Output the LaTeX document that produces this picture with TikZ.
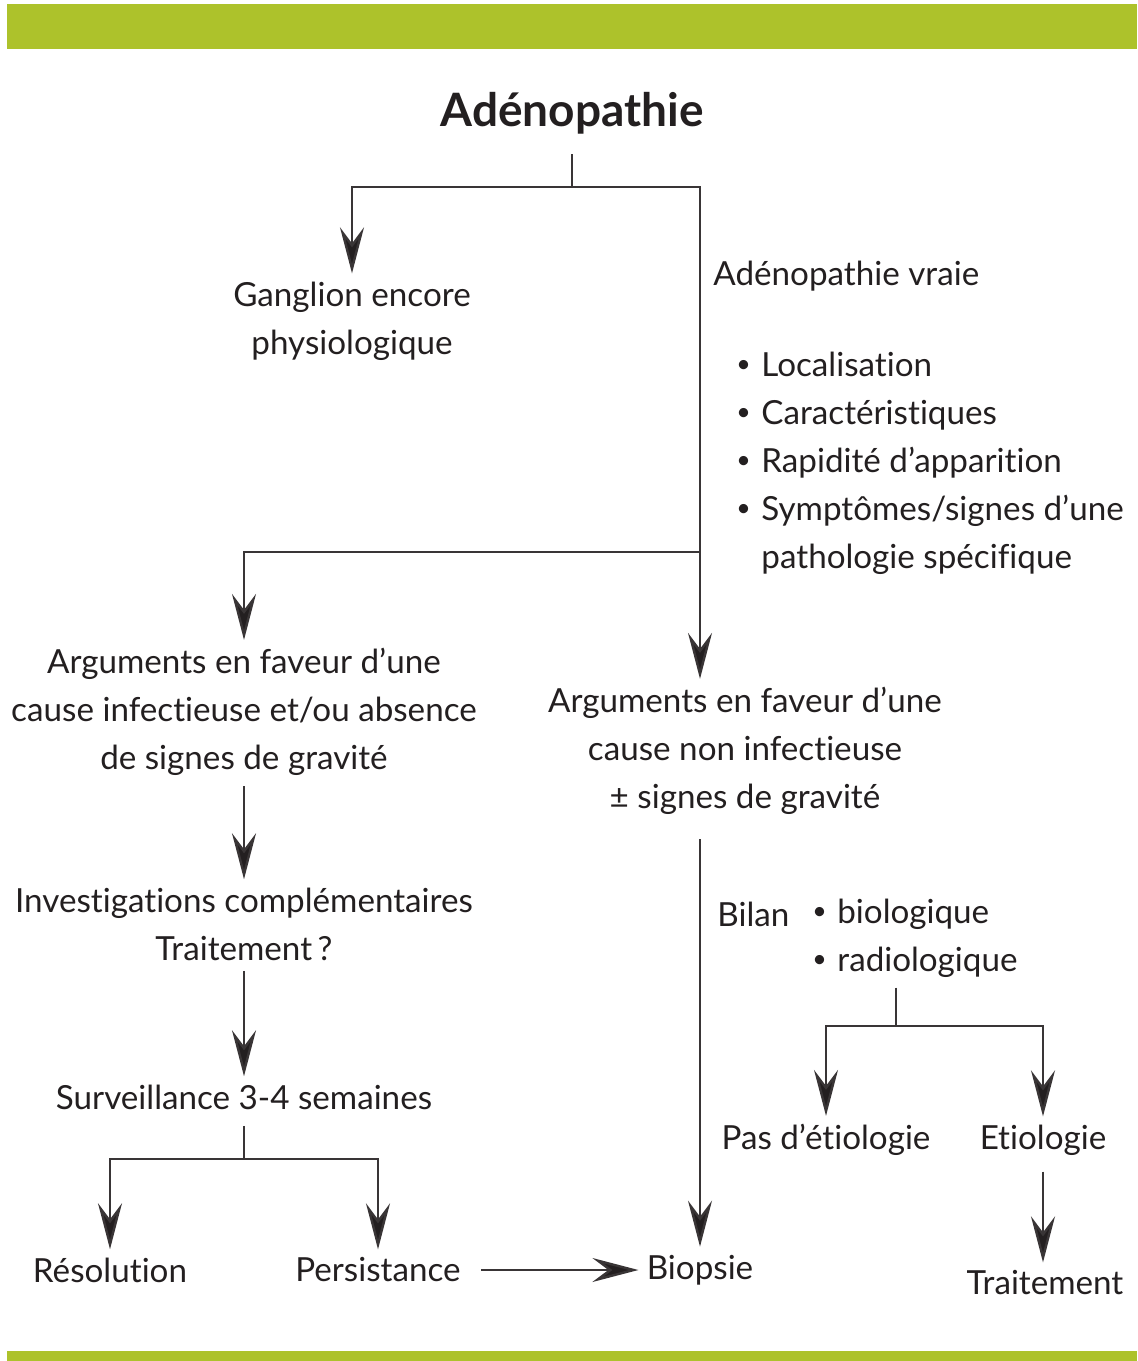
\documentclass[tikz,border=0pt]{standalone}
\usepackage{fontspec}
\setmainfont{Lato}[Ligatures=NoCommon]
\usetikzlibrary{arrows.meta,positioning}
\definecolor{barre}{HTML}{ADC22B}
\definecolor{encre}{HTML}{231F20}
\tikzset{
  txt/.style={font=\fontsize{16.6}{24}\selectfont, text=encre, align=center, inner sep=0pt},
  trait/.style={line width=1.2pt, draw=encre!90, shorten <=5pt},
  arr/.style={trait, -{Stealth[length=23pt,width=12pt,inset=8pt,fill=encre]}, shorten >=4pt},
}
\newcommand{\puce}{\makebox[12.5pt][l]{\raisebox{0.25ex}{\scalebox{0.75}{\textbullet}}}}

\begin{document}
\begin{tikzpicture}[x=0.5pt,y=-0.5pt]
\useasboundingbox (0,0) rectangle (1137,1361);
% bandes vertes
\fill[barre] (7,4) rectangle (1137,49);
\fill[barre] (7,1351) rectangle (1137,1361);

\node[txt, font=\fontsize{23}{26}\selectfont\bfseries] (titre) at (572,113) {Adénopathie};
\node[txt] (ganglion) at (352,321) {Ganglion encore\\physiologique};
\node[txt, anchor=west] (vraie) at (713,276) {Adénopathie vraie};
\node[txt, anchor=west, align=left] (criteres) at (736,463) {\puce Localisation\\\puce Caractéristiques\\\puce Rapidité d’apparition\\\puce Symptômes/signes d’une\\\hspace*{12.5pt}pathologie spécifique};
\node[txt] (infect) at (244,712) {Arguments en faveur d’une\\cause infectieuse et/ou absence\\de signes de gravité};
\node[txt] (noninf) at (745,751) {Arguments en faveur d’une\\cause non infectieuse\\± signes de gravité};
\node[txt] (invest) at (244,924) {Investigations complémentaires\\Traitement\,?};
\node[txt] (surv) at (244,1097) {Surveillance 3-4 semaines};
\node[txt] (resol) at (110,1270) {Résolution};
\node[txt] (persist) at (378,1270) {Persistance};
\node[txt] (biopsie) at (700,1270) {Biopsie};
\node[txt, anchor=west] (bilan) at (717,914) {Bilan};
\node[txt, anchor=west, align=left] (examens) at (812,938) {\puce biologique\\\puce radiologique};
\node[txt] (pasetio) at (826,1140) {Pas d’étiologie};
\node[txt] (etio) at (1043,1140) {Etiologie};
\node[txt] (traitement) at (1045,1283) {Traitement};

\coordinate (ja) at (572,187);
\coordinate (jb) at (700,552);
\coordinate (jc) at (244,1159);
\coordinate (jd) at (896,1026);

\draw[trait, shorten <=10pt] (titre) -- (ja);
\draw[arr, shorten <=0pt] (ja) -| (ganglion);
\draw[trait, shorten <=0pt] (ja) -| (jb);
\draw[arr, shorten <=0pt] (jb) -- (jb |- noninf.north);
\draw[arr, shorten <=0pt] (jb) -| (infect);
\draw[arr] (infect) -- (invest);
\draw[arr] (invest) -- (surv);
\draw[trait, shorten <=8pt] (surv) -- (jc);
\draw[arr, shorten <=0pt] (jc) -| (resol);
\draw[arr, shorten <=0pt] (jc) -| (persist);
\draw[arr, shorten <=10pt] (persist) -- (biopsie);
\draw[arr, shorten <=12pt] (noninf.south -| biopsie) -- (biopsie);
\draw[trait] (examens.south -| jd) -- (jd);
\draw[arr, shorten <=0pt] (jd) -| (pasetio);
\draw[arr, shorten <=0pt] (jd) -| (etio);
\draw[arr, shorten <=8pt] (etio) -- (etio |- traitement.north);
\end{tikzpicture}
\end{document}
